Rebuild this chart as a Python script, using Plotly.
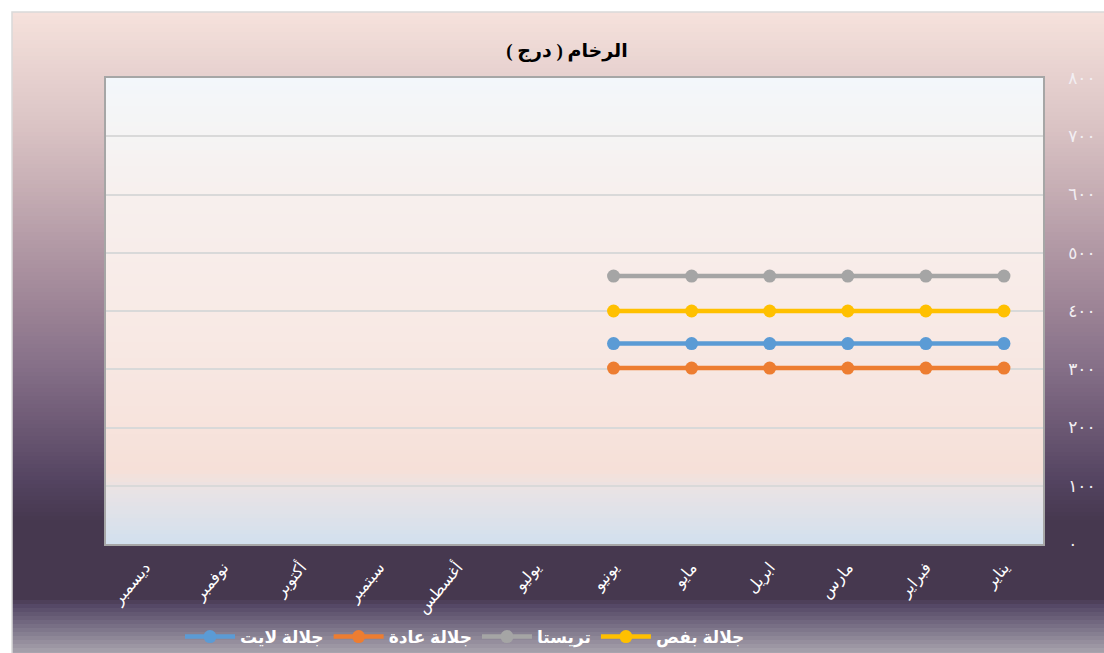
import plotly.graph_objects as go

months = ["يناير", "فبراير", "مارس", "ابريل", "مايو", "يونيو",
          "يوليو", "أغسطس", "سبتمبر", "أكتوبر", "نوفمبر", "ديسمبر"]
jalala_light = [344, 344, 344, 344, 344, 344, None, None, None, None, None, None]
jalala_normal = [302, 302, 302, 302, 302, 302, None, None, None, None, None, None]
trista = [460, 460, 460, 460, 460, 460, None, None, None, None, None, None]
jalala_bfs = [400, 400, 400, 400, 400, 400, None, None, None, None, None, None]

y_tickvals = [0, 100, 200, 300, 400, 500, 600, 700, 800]
y_ticktext = ["٠", "١٠٠", "٢٠٠", "٣٠٠", "٤٠٠", "٥٠٠", "٦٠٠", "٧٠٠", "٨٠٠"]

W, H = 1104, 653
L, R, T, B = 106, 1043, 78, 544
PW, PH = R - L, B - T


def px_x(x):
    return (x - L) / PW


def px_y(y):
    return (B - y) / PH


def hex2rgb(h):
    h = h.lstrip("#")
    return tuple(int(h[i:i + 2], 16) for i in (0, 2, 4))


def interp(stops, y):
    for (y0, c0), (y1, c1) in zip(stops, stops[1:]):
        if y0 <= y <= y1:
            t = 0 if y1 == y0 else (y - y0) / (y1 - y0)
            a, b = hex2rgb(c0), hex2rgb(c1)
            return "rgb(%d,%d,%d)" % tuple(round(a[i] + (b[i] - a[i]) * t) for i in range(3))
    return stops[-1][1]


outer_stops = [(12, "#f6e2dc"), (60, "#ead5d2"), (120, "#dcc5c6"), (180, "#c9b1b6"),
               (240, "#b49ba7"), (300, "#9f8697"), (360, "#88728a"), (420, "#6f5b76"),
               (480, "#544461"), (520, "#46384f"), (598, "#46384f"), (606, "#554866"),
               (653, "#a8a4ae")]
inner_stops = [(78, "#f3f7fb"), (135, "#f5f4f4"), (200, "#f7efed"), (300, "#f8ebe7"),
               (400, "#f7e5df"), (470, "#f6e0d8"), (490, "#e9e3e5"), (544, "#d2e0ee")]

shapes = []
step = 4
y = 12
while y < H:
    y2 = min(y + step, H)
    shapes.append(dict(type="rect", xref="paper", yref="paper", layer="below",
                       x0=px_x(12), x1=px_x(W + 2), y0=px_y(y2 + 0.6), y1=px_y(y),
                       fillcolor=interp(outer_stops, y + step / 2), line=dict(width=0)))
    y = y2
shapes.append(dict(type="rect", xref="paper", yref="paper", layer="below",
                   x0=px_x(12), x1=px_x(W + 5), y0=px_y(H + 5), y1=px_y(12),
                   fillcolor="rgba(0,0,0,0)", line=dict(color="#d9d9d9", width=1.5)))
y = T
while y < B:
    y2 = min(y + step, B)
    shapes.append(dict(type="rect", xref="paper", yref="paper", layer="below",
                       x0=0, x1=1, y0=px_y(y2 + 0.6), y1=px_y(y),
                       fillcolor=interp(inner_stops, y + step / 2), line=dict(width=0)))
    y = y2

fig = go.Figure()
series = [("جلالة لايت", jalala_light, "#5b9bd5"),
          ("جلالة عادة", jalala_normal, "#ed7d31"),
          ("تريستا", trista, "#a5a5a5"),
          ("جلالة بفص", jalala_bfs, "#ffc000")]
for name, vals, col in series:
    fig.add_trace(go.Scatter(x=months, y=vals, name=name, mode="lines+markers",
                             line=dict(color=col, width=4.5),
                             marker=dict(color=col, size=13), connectgaps=False))

fig.update_layout(
    width=W, height=H,
    margin=dict(l=L, r=W - R, t=T, b=H - B, autoexpand=False),
    paper_bgcolor="white", plot_bgcolor="rgba(0,0,0,0)",
    shapes=shapes,
    title=dict(text="<b>الرخام ( درج )</b>", x=567 / W, xanchor="center",
               y=1 - 50 / H, yanchor="middle",
               font=dict(family="Liberation Serif, DejaVu Sans", size=19, color="black")),
    showlegend=True,
    legend=dict(orientation="h", x=px_x(180), xanchor="left", y=px_y(637), yanchor="middle",
                bgcolor="rgba(0,0,0,0)", itemwidth=50, traceorder="normal",
                font=dict(family="Liberation Sans, DejaVu Sans", size=17, color="white",
                          weight="bold")),
    xaxis=dict(type="category", range=[11.5, -0.5], showgrid=False, showline=True, mirror=True,
               linecolor="#a6a6a6", linewidth=1.5, ticks="", tickangle=-50,
               ticklabelstandoff=6,
               tickfont=dict(family="DejaVu Sans", size=16, color="white"),
               zeroline=False),
    yaxis=dict(side="right", range=[0, 800], tickvals=y_tickvals, ticktext=y_ticktext,
               showgrid=True, gridcolor="#d9d9d9", gridwidth=1.5, showline=True, mirror=True,
               linecolor="#a6a6a6", linewidth=1.5, ticks="", ticklabelstandoff=20,
               tickfont=dict(family="DejaVu Sans", size=17, color="#f2eef2"),
               zeroline=False),
)

fig.write_html("out.html", post_script="document.body.style.margin='0';",
               config={"displayModeBar": False})
